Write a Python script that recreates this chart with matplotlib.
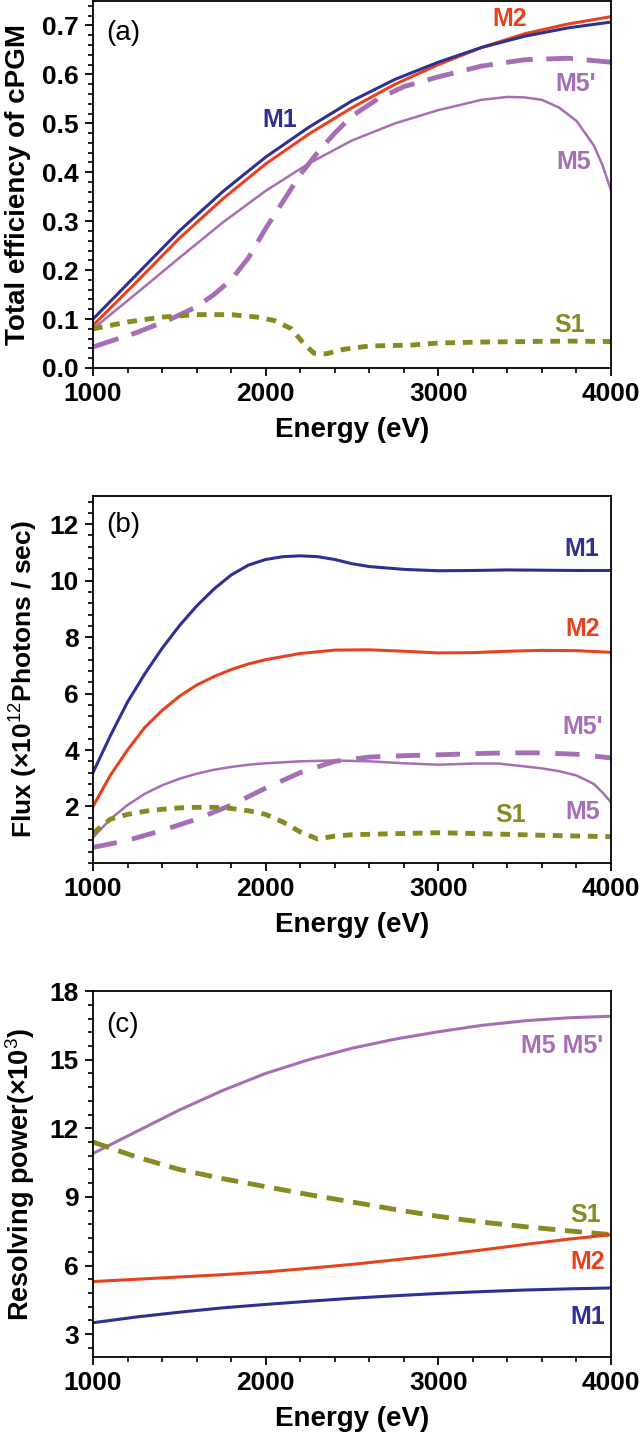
import numpy as np
import matplotlib
matplotlib.use("Agg")
from matplotlib import pyplot as plt
from matplotlib.ticker import MultipleLocator

matplotlib.rcParams['font.family'] = ['Liberation Sans', 'DejaVu Sans']
matplotlib.rcParams['mathtext.fontset'] = 'custom'
matplotlib.rcParams['mathtext.rm'] = 'Liberation Sans'
matplotlib.rcParams['mathtext.bf'] = 'Liberation Sans:bold'

c_m1 = '#2e3192'
c_m2 = '#e6421f'
c_m5 = '#a66fb5'
c_s1 = '#878a20'

# (a) total efficiency of cPGM
e_m1a = [1000, 1250, 1500, 1750, 2000, 2250, 2500, 2750, 3000, 3250, 3500, 3750, 4000]
m1a = [0.100, 0.190, 0.280, 0.360, 0.431, 0.492, 0.546, 0.590, 0.625, 0.655, 0.678, 0.695, 0.707]
m2a = [0.087, 0.175, 0.265, 0.345, 0.417, 0.478, 0.532, 0.580, 0.620, 0.655, 0.683, 0.703, 0.718]
e_m5a = [1000, 1250, 1500, 1750, 2000, 2250, 2500, 2750, 3000, 3250, 3400, 3500, 3600,
         3700, 3800, 3900, 3950, 4000]
m5a = [0.080, 0.152, 0.225, 0.297, 0.362, 0.418, 0.465, 0.500, 0.527, 0.548, 0.554, 0.553,
       0.548, 0.532, 0.505, 0.455, 0.415, 0.363]
e_m5pa = [1000, 1250, 1450, 1600, 1700, 1800, 1900, 2000, 2100, 2200, 2300, 2400, 2500,
          2650, 2800, 3000, 3250, 3500, 3750, 4000]
m5pa = [0.043, 0.072, 0.100, 0.125, 0.150, 0.180, 0.225, 0.285, 0.340, 0.395, 0.440, 0.480,
        0.515, 0.550, 0.575, 0.595, 0.617, 0.630, 0.633, 0.625]
e_s1a = [1000, 1200, 1400, 1600, 1800, 1950, 2050, 2150, 2220, 2280, 2350, 2450, 2600,
         2750, 2850, 3000, 3250, 3500, 3750, 4000]
s1a = [0.080, 0.094, 0.104, 0.109, 0.109, 0.104, 0.097, 0.080, 0.050, 0.030, 0.029, 0.038,
       0.045, 0.046, 0.047, 0.051, 0.053, 0.054, 0.055, 0.054]

# (b) flux
e_m1b = [1000, 1100, 1200, 1300, 1400, 1500, 1600, 1700, 1800, 1900, 2000, 2100, 2200, 2300,
         2400, 2500, 2600, 2800, 3000, 3200, 3400, 3600, 3800, 4000]
m1b = [3.2, 4.5, 5.7, 6.7, 7.6, 8.4, 9.1, 9.7, 10.2, 10.55, 10.75, 10.85, 10.88, 10.85,
       10.75, 10.6, 10.5, 10.4, 10.35, 10.36, 10.38, 10.37, 10.36, 10.36]
e_m2b = [1000, 1100, 1200, 1300, 1400, 1500, 1600, 1700, 1800, 1900, 2000, 2200, 2400, 2600,
         2800, 3000, 3200, 3400, 3600, 3800, 4000]
m2b = [2.0, 3.1, 4.0, 4.8, 5.4, 5.9, 6.3, 6.6, 6.85, 7.05, 7.2, 7.42, 7.54, 7.55, 7.5,
       7.44, 7.45, 7.5, 7.53, 7.52, 7.46]
e_m5b = [1000, 1100, 1200, 1300, 1400, 1500, 1600, 1700, 1800, 1900, 2000, 2200, 2400, 2600,
         2800, 3000, 3200, 3350, 3500, 3600, 3700, 3800, 3900, 3950, 4000]
m5b = [0.9, 1.55, 2.05, 2.45, 2.75, 2.98, 3.16, 3.3, 3.4, 3.48, 3.53, 3.6, 3.63, 3.6, 3.53,
       3.48, 3.52, 3.52, 3.42, 3.35, 3.25, 3.1, 2.8, 2.5, 2.15]
e_m5pb = [1000, 1200, 1400, 1600, 1800, 2000, 2200, 2400, 2600, 2800, 3000, 3200, 3400, 3600,
          3800, 4000]
m5pb = [0.55, 0.8, 1.15, 1.55, 2.05, 2.65, 3.2, 3.6, 3.75, 3.8, 3.83, 3.87, 3.9, 3.9, 3.85, 3.72]
e_s1b = [1000, 1100, 1200, 1300, 1400, 1500, 1600, 1700, 1800, 1900, 2000, 2100, 2200, 2300,
         2400, 2500, 2700, 3000, 3300, 3600, 4000]
s1b = [1.05, 1.55, 1.72, 1.83, 1.9, 1.95, 1.97, 1.97, 1.93, 1.85, 1.72, 1.45, 1.1, 0.85, 0.95,
       1.0, 1.03, 1.07, 1.03, 0.98, 0.93]

# (c) resolving power
e_c = [1000, 1250, 1500, 1750, 2000, 2250, 2500, 2750, 3000, 3250, 3500, 3750, 4000]
m5c = [10.9, 11.85, 12.8, 13.65, 14.4, 15.0, 15.5, 15.9, 16.22, 16.5, 16.7, 16.83, 16.9]
s1c = [11.4, 10.75, 10.2, 9.8, 9.45, 9.1, 8.78, 8.45, 8.15, 7.9, 7.7, 7.52, 7.35]
m2c = [5.3, 5.4, 5.5, 5.6, 5.72, 5.88, 6.05, 6.25, 6.45, 6.68, 6.92, 7.15, 7.35]
m1c = [3.5, 3.75, 3.96, 4.15, 4.3, 4.44, 4.57, 4.68, 4.78, 4.86, 4.93, 4.98, 5.02]


def style(ax, ylim, major, minor, ylabel, panel, pany, lsize=20, lx=-0.12):
    ax.set_xlim(1000, 4000)
    ax.set_ylim(ylim)
    ax.xaxis.set_major_locator(MultipleLocator(1000))
    ax.xaxis.set_minor_locator(MultipleLocator(200))
    ax.yaxis.set_major_locator(MultipleLocator(major))
    ax.yaxis.set_minor_locator(MultipleLocator(minor))
    ax.tick_params(which='major', direction='out', length=6, width=1.3, labelsize=19, pad=4)
    ax.tick_params(which='minor', direction='out', length=3.5, width=1.2)
    for sp in ax.spines.values():
        sp.set_linewidth(1.3)
    ax.set_xlabel('Energy (eV)', fontsize=20, fontweight='bold')
    ax.xaxis.set_label_coords(0.5, -0.133)
    ax.set_ylabel(ylabel, fontsize=lsize, fontweight='bold')
    ax.yaxis.set_label_coords(lx, 0.5)
    ax.text(0.025, pany, panel, transform=ax.transAxes, fontsize=20, ha='left', va='center')


def bold_ticks(ax):
    for lab in ax.get_xticklabels() + ax.get_yticklabels():
        lab.set_fontweight('bold')


def tag(ax, x, y, s, c):
    ax.text(x, y, s, color=c, fontsize=18, fontweight='bold', ha='center', va='center')


fig = plt.figure(figsize=(6.4, 14.38), dpi=100)
ax1 = fig.add_axes([0.1453, 0.7441, 0.8094, 0.2552])
ax2 = fig.add_axes([0.1453, 0.3999, 0.8094, 0.2552])
ax3 = fig.add_axes([0.1453, 0.0563, 0.8094, 0.2545])

# (a)
ax1.plot(e_m5a, m5a, color=c_m5, lw=1.8)
ax1.plot(e_m5pa, m5pa, color=c_m5, lw=3.5, dashes=(5.5, 2.8))
ax1.plot(e_s1a, s1a, color=c_s1, lw=3.5, dashes=(2, 1.6))
ax1.plot(e_m1a, m2a, color=c_m2, lw=2.2)
ax1.plot(e_m1a, m1a, color=c_m1, lw=2.2)
style(ax1, (0, 0.75), 0.1, 0.02, 'Total efficiency of cPGM', '(a)', 0.913)
bold_ticks(ax1)
tag(ax1, 2080, 0.506, 'M1', c_m1)
tag(ax1, 3416, 0.714, 'M2', c_m2)
tag(ax1, 3794, 0.58, "M5'", c_m5)
tag(ax1, 3782, 0.42, 'M5', c_m5)
tag(ax1, 3759, 0.087, 'S1', c_s1)

# (b)
ax2.plot(e_m5b, m5b, color=c_m5, lw=1.8)
ax2.plot(e_m5pb, m5pb, color=c_m5, lw=3.5, dashes=(5, 3.2))
ax2.plot(e_s1b, s1b, color=c_s1, lw=3.5, dashes=(2, 1.6))
ax2.plot(e_m2b, m2b, color=c_m2, lw=2.2)
ax2.plot(e_m1b, m1b, color=c_m1, lw=2.2)
style(ax2, (0, 13), 2, 0.4, r'Flux (×10$^{\mathrm{12}}$Photons / sec)', '(b)', 0.921,
      lsize=19, lx=-0.105)
ax2.set_yticks([2, 4, 6, 8, 10, 12])
bold_ticks(ax2)
tag(ax2, 3830, 11.13, 'M1', c_m1)
tag(ax2, 3837, 8.28, 'M2', c_m2)
tag(ax2, 3837, 4.83, "M5'", c_m5)
tag(ax2, 3837, 1.82, 'M5', c_m5)
tag(ax2, 3416, 1.7, 'S1', c_s1)

# (c)
ax3.plot(e_c, m5c, color=c_m5, lw=2.2)
ax3.plot(e_c, s1c, color=c_s1, lw=3.5, dashes=(3.5, 2))
ax3.plot(e_c, m2c, color=c_m2, lw=2.2)
ax3.plot(e_c, m1c, color=c_m1, lw=2.2)
style(ax3, (2, 18), 3, 0.6, r'Resolving power(×10$^{\mathrm{3}}$)', '(c)', 0.907,
      lsize=19.5, lx=-0.108)
bold_ticks(ax3)
tag(ax3, 3719, 15.58, "M5 M5'", c_m5)
tag(ax3, 3853, 8.2, 'S1', c_s1)
tag(ax3, 3865, 6.16, 'M2', c_m2)
tag(ax3, 3865, 3.76, 'M1', c_m1)

fig.savefig('out.png', dpi=100)
